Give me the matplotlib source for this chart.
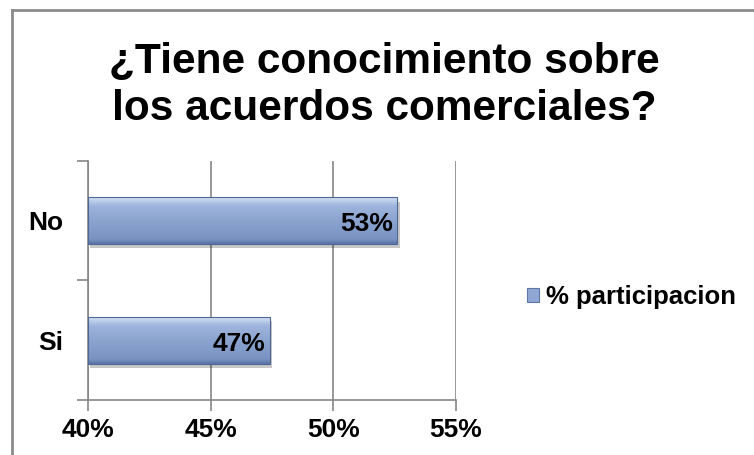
import matplotlib.pyplot as plt
import matplotlib.colors as mcolors
from matplotlib.lines import Line2D
from matplotlib.patches import Rectangle
import numpy as np

categories = ["Si", "No"]
participacion = [47.4, 52.6]
x_ticks = [40, 45, 50, 55]

plt.rcParams['font.family'] = ['Liberation Sans', 'DejaVu Sans']
plt.rcParams['font.weight'] = 'bold'

fig = plt.figure(figsize=(7.54, 4.55), dpi=100)
ax = fig.add_axes([0.1167, 0.1209, 0.4881, 0.5253])

ypos = np.arange(len(categories))
bar_h = 0.39
bars = ax.barh(ypos, participacion, height=bar_h, left=0,
               color='#8FA7D2', edgecolor='none', label='% participacion',
               zorder=3)

# Shaded look: soft shadow plus a vertical gradient over each bar
grad = mcolors.LinearSegmentedColormap.from_list(
    'barfill', [(0.0, '#5A73A3'), (0.1, '#7A93C2'), (0.5, '#8BA3CF'),
                (0.82, '#9FB5DC'), (1.0, '#D3E0F4')])
g = np.linspace(0, 1, 100).reshape(-1, 1)
for p in bars.patches:
    x0 = 40
    x1 = p.get_x() + p.get_width()
    y0 = p.get_y()
    y1 = y0 + p.get_height()
    ax.add_patch(Rectangle((x0 + 0.1, y0 - 0.035), x1 - x0, y1 - y0,
                           facecolor='#000000', alpha=0.22, edgecolor='none',
                           zorder=2.5))
    ax.imshow(g, cmap=grad, extent=[x0, x1, y0, y1], origin='lower',
              aspect='auto', zorder=3.2, interpolation='bicubic')
    ax.add_patch(Rectangle((x0, y0), x1 - x0, y1 - y0, facecolor='none',
                           edgecolor='#4F6794', linewidth=0.8, zorder=3.4))
    ax.text(x1 - 0.15, (y0 + y1) / 2 - 0.03, f"{round(x1):.0f}%",
            ha='right', va='center', fontsize=19, fontweight='bold',
            color='black', zorder=4)

ax.set_xlim(40, 55)
ax.set_ylim(-0.5, 1.5)
ax.set_xticks(x_ticks)
ax.set_xticklabels([f"{t}%" for t in x_ticks], fontsize=19, fontweight='bold')
ax.set_yticks([-0.5, 0.5, 1.5])
ax.set_yticklabels([])
ax.set_yticks(ypos, minor=True)
ax.set_yticklabels(categories, minor=True, fontsize=19, fontweight='bold')
ax.tick_params(axis='y', which='major', length=8, width=1.2, color='#868686')
ax.tick_params(axis='y', which='minor', length=0, pad=18)
ax.tick_params(axis='x', which='major', length=8, width=1.2, color='#868686',
               pad=5)

ax.grid(axis='x', color='#868686', linewidth=1.2, zorder=0)
ax.set_axisbelow(True)
for side in ['top', 'right']:
    ax.spines[side].set_visible(False)
for side in ['left', 'bottom']:
    ax.spines[side].set_color('#868686')
    ax.spines[side].set_linewidth(1.2)

leg = ax.legend(handles=[Rectangle((0, 0), 1, 1, facecolor='#8FA7D2',
                                   edgecolor='#5E77A6', linewidth=0.8)],
                labels=['% participacion'], loc='center left',
                bbox_to_anchor=(1.193, 0.43), frameon=False,
                borderpad=0, borderaxespad=0,
                handlelength=0.45, handleheight=0.45, handletextpad=0.3,
                prop={'weight': 'bold', 'size': 18.5})

fig.text(0.51, 0.812, "¿Tiene conocimiento sobre\nlos acuerdos comerciales?",
         ha='center', va='center', fontsize=30.5, fontweight='bold',
         linespacing=1.25)

# Chart frame
fig.add_artist(Line2D([0.0153, 1.0], [0.979, 0.979], color='#8C8C8C',
                      linewidth=2, transform=fig.transFigure))
fig.add_artist(Line2D([0.0153, 0.0153], [0.0, 0.979], color='#8C8C8C',
                      linewidth=2, transform=fig.transFigure))

fig.savefig('out.png', dpi=100)
